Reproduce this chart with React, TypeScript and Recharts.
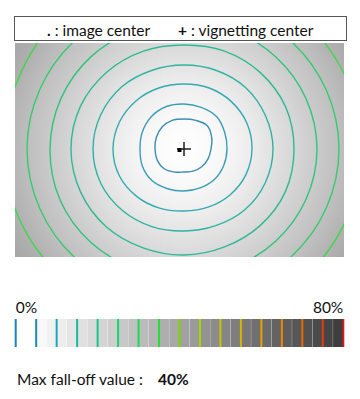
import { ComposedChart, BarChart, Bar, Cell, XAxis, YAxis, Line, Scatter, ReferenceArea, ReferenceLine } from 'recharts'

// image frame in sensor pixels
const IMAGE_W = 329
const IMAGE_H = 214
const IMAGE_CENTER = [{ x: 164.5, y: 107 }]
const VIGNETTING_CENTER = [{ x: 169, y: 106 }]

// iso fall-off contours: radius (px) from the vignetting center,
// sampled every 22.5 deg clockwise from +x (image y points down)
const ANGLES = [0, 22.5, 45, 67.5, 90, 112.5, 135, 157.5, 180, 202.5, 225, 247.5, 270, 292.5, 315, 337.5]
const CONTOUR_LEVELS = [5, 10, 15, 20, 25, 30, 35, 40]
const CONTOUR_RADII = [
  [27, 26, 25, 24, 23, 25, 28, 29, 29, 30, 31, 31, 30, 31, 33, 30],
  [43, 43, 43, 42, 42, 43, 45, 45, 44, 45, 46, 46, 45, 45, 46, 44],
  [68, 67, 65, 63, 62, 64, 67, 70, 71, 70, 68, 66, 65, 66, 67, 68],
  [89, 88, 86, 83, 82, 84, 87, 90, 91, 90, 88, 85, 84, 85, 87, 88],
  [110, 110, 108, 106, 106, 107, 110, 112, 113, 112, 109, 106, 104, 106, 108, 110],
  [133, 132, 130, 128, 127, 129, 132, 134, 134, 133, 131, 128, 126, 128, 130, 132],
  [155, 154, 152, 150, 149, 151, 154, 156, 157, 156, 154, 151, 149, 150, 152, 154],
  [178, 177, 176, 174, 172, 174, 177, 179, 180, 180, 181, 178, 175, 176, 176, 177],
]
const CONTOUR_COLORS = ['#3a8db4', '#3a9db6', '#34aab0', '#2fb3a2', '#2fbb92', '#30c47e', '#34cc6c', '#3cd84a']

// colour scale 0..80 %
const SCALE_STEPS = [0, 2.5, 5, 7.5, 10, 12.5, 15, 17.5, 20, 22.5, 25, 27.5, 30, 32.5, 35, 37.5,
  40, 42.5, 45, 47.5, 50, 52.5, 55, 57.5, 60, 62.5, 65, 67.5, 70, 72.5, 75, 77.5]
const SCALE_GREYS = ['#ffffff', '#ffffff', '#f8f8f8', '#f2f2f2', '#ededed', '#e6e6e6', '#e1e1e1', '#dadada',
  '#d4d4d4', '#cecece', '#c8c8c8', '#c1c1c1', '#bbbbbb', '#b5b5b5', '#aeaeae', '#a8a8a8',
  '#a1a1a1', '#9a9a9a', '#939393', '#8c8c8c', '#858585', '#7e7e7e', '#777777', '#707070',
  '#6a6a6a', '#636363', '#5d5d5d', '#575757', '#515151', '#4b4b4b', '#454545', '#3e3e3e']
const SCALE_MARKS = [0, 5, 10, 15, 20, 25, 30, 35, 40, 45, 50, 55, 60, 65, 70, 75, 80]
const SCALE_MARK_COLORS = ['#1b7fc4', '#1c8fb4', '#1aa8b8', '#16bca0', '#14c88a', '#18d470', '#14e050', '#20e030',
  '#7ad800', '#a8d400', '#c8c400', '#d8b400', '#eca000', '#ee8800', '#ee6800', '#e43c10', '#d41818']
const SCALE_TICKS = [0, 80]
const MAX_FALLOFF = 40

const FONT = 'Lato, "Open Sans", sans-serif'

const contours = CONTOUR_RADII.map(radii =>
  radii.map((r, i) => {
    const a = (ANGLES[i] * Math.PI) / 180
    return { x: VIGNETTING_CENTER[0].x + r * Math.cos(a), y: VIGNETTING_CENTER[0].y + r * Math.sin(a) }
  })
)

const scaleData = SCALE_STEPS.map((s, i) => ({ step: s, grey: SCALE_GREYS[i], full: 1 }))

// closed Catmull-Rom curve, so the contour rings have no seam
const closedCurve = (context: any) => {
  let xs: number[] = []
  let ys: number[] = []
  return {
    areaStart() {},
    areaEnd() {},
    lineStart() { xs = []; ys = [] },
    point(x: number, y: number) { xs.push(+x); ys.push(+y) },
    lineEnd() {
      const n = xs.length
      if (!n) return
      context.moveTo(xs[0], ys[0])
      for (let i = 0; i < n; i++) {
        const a = (i - 1 + n) % n
        const b = (i + 1) % n
        const c = (i + 2) % n
        context.bezierCurveTo(
          xs[i] + (xs[b] - xs[a]) / 6, ys[i] + (ys[b] - ys[a]) / 6,
          xs[b] - (xs[c] - xs[i]) / 6, ys[b] - (ys[c] - ys[i]) / 6,
          xs[b], ys[b],
        )
      }
      context.closePath()
    },
  }
}

// grey background, brightest at the vignetting center
const VignetteShape = (props: any) => {
  const { x, y, width, height } = props
  const cx = x + (width * VIGNETTING_CENTER[0].x) / IMAGE_W
  const cy = y + (height * VIGNETTING_CENTER[0].y) / IMAGE_H
  const r = (width * 205) / IMAGE_W
  return (
    <g>
      <defs>
        <radialGradient id="vignette" gradientUnits="userSpaceOnUse" cx={cx} cy={cy} r={r}>
          <stop offset="0" stopColor="#ffffff" />
          <stop offset="0.15" stopColor="#fafafa" />
          <stop offset="0.3" stopColor="#efefef" />
          <stop offset="0.45" stopColor="#e0e0e0" />
          <stop offset="0.6" stopColor="#d0d0d0" />
          <stop offset="0.75" stopColor="#c0c0c0" />
          <stop offset="0.88" stopColor="#b0b0b0" />
          <stop offset="1" stopColor="#a4a4a4" />
        </radialGradient>
      </defs>
      <rect x={x} y={y} width={width} height={height} fill="url(#vignette)" />
    </g>
  )
}

const CenterDot = (props: any) => (
  <rect x={props.cx - 2} y={props.cy - 2} width={4} height={4} fill="#000" />
)

const CenterCross = (props: any) => (
  <g stroke="#111" strokeWidth={1.4}>
    <line x1={props.cx - 7} y1={props.cy} x2={props.cx + 7} y2={props.cy} />
    <line x1={props.cx} y1={props.cy - 7} x2={props.cx} y2={props.cy + 7} />
  </g>
)

const ScaleTick = (props: any) => {
  const { x, y, payload } = props
  return (
    <text x={x} y={y - 6} textAnchor={payload.value === 0 ? 'start' : 'end'}
      fontFamily={FONT} fontSize={15.5} fill="#111">
      {`${payload.value}%`}
    </text>
  )
}

export default function App() {
  return (
    <div style={{ position: 'absolute', left: 0, top: 0, width: 360, height: 399, background: '#fff', fontFamily: FONT, color: '#111' }}>
      <div style={{
        position: 'absolute', left: 14, top: 16, width: 333, height: 25,
        boxSizing: 'border-box', border: '1px solid #555',
      }} />
      <span style={{ position: 'absolute', left: 47, top: 21, fontSize: 15.5, lineHeight: '18px', whiteSpace: 'pre' }}>
        <b>.</b> : image center
      </span>
      <span style={{ position: 'absolute', left: 178, top: 21, fontSize: 15.5, lineHeight: '18px', whiteSpace: 'pre' }}>
        <b>+</b> : vignetting center
      </span>

      <div style={{ position: 'absolute', left: 15, top: 42.5 }}>
        <ComposedChart width={IMAGE_W} height={IMAGE_H} margin={{ top: 0, right: 0, bottom: 0, left: 0 }}>
          <XAxis type="number" dataKey="x" domain={[0, IMAGE_W]} hide allowDataOverflow />
          <YAxis type="number" dataKey="y" domain={[0, IMAGE_H]} reversed hide allowDataOverflow />
          <ReferenceArea x1={0} x2={IMAGE_W} y1={0} y2={IMAGE_H} shape={VignetteShape} ifOverflow="visible" />
          {contours.map((pts, i) => (
            <Line
              key={CONTOUR_LEVELS[i]}
              data={pts}
              dataKey="y"
              name={`${CONTOUR_LEVELS[i]}%`}
              type={closedCurve as any}
              stroke={CONTOUR_COLORS[i]}
              strokeWidth={1.4}
              dot={false}
              activeDot={false}
              isAnimationActive={false}
            />
          ))}
          <Scatter data={IMAGE_CENTER} dataKey="y" shape={CenterDot} isAnimationActive={false} />
          <Scatter data={VIGNETTING_CENTER} dataKey="y" shape={CenterCross} isAnimationActive={false} />
        </ComposedChart>
      </div>

      <div style={{ position: 'absolute', left: 14, top: 293 }}>
        <BarChart
          width={332}
          height={54}
          data={scaleData}
          barCategoryGap={0}
          barGap={0}
          margin={{ top: 0, right: 2.7, bottom: 0, left: 1.7 }}
        >
          <XAxis xAxisId="band" dataKey="step" type="category" hide />
          <XAxis
            xAxisId="pct"
            dataKey="step"
            type="number"
            domain={[0, 80]}
            allowDataOverflow
            ticks={SCALE_TICKS}
            interval={0}
            orientation="top"
            height={26}
            axisLine={false}
            tickLine={false}
            tickSize={0}
            tickMargin={0}
            tick={<ScaleTick />}
          />
          <YAxis type="number" domain={[0, 1]} hide />
          <Bar xAxisId="band" dataKey="full" isAnimationActive={false}>
            {scaleData.map(d => (
              <Cell key={d.step} fill={d.grey} />
            ))}
          </Bar>
          {SCALE_MARKS.map((m, i) => (
            <ReferenceLine key={m} xAxisId="pct" x={m} stroke={SCALE_MARK_COLORS[i]} strokeWidth={2} ifOverflow="visible" />
          ))}
        </BarChart>
      </div>

      <span style={{ position: 'absolute', left: 17, top: 370, fontSize: 15.5, lineHeight: '19px', whiteSpace: 'pre' }}>
        Max fall-off value :
      </span>
      <span style={{ position: 'absolute', left: 158, top: 370, fontSize: 15.5, lineHeight: '19px', fontWeight: 700 }}>
        {MAX_FALLOFF}%
      </span>
    </div>
  )
}
